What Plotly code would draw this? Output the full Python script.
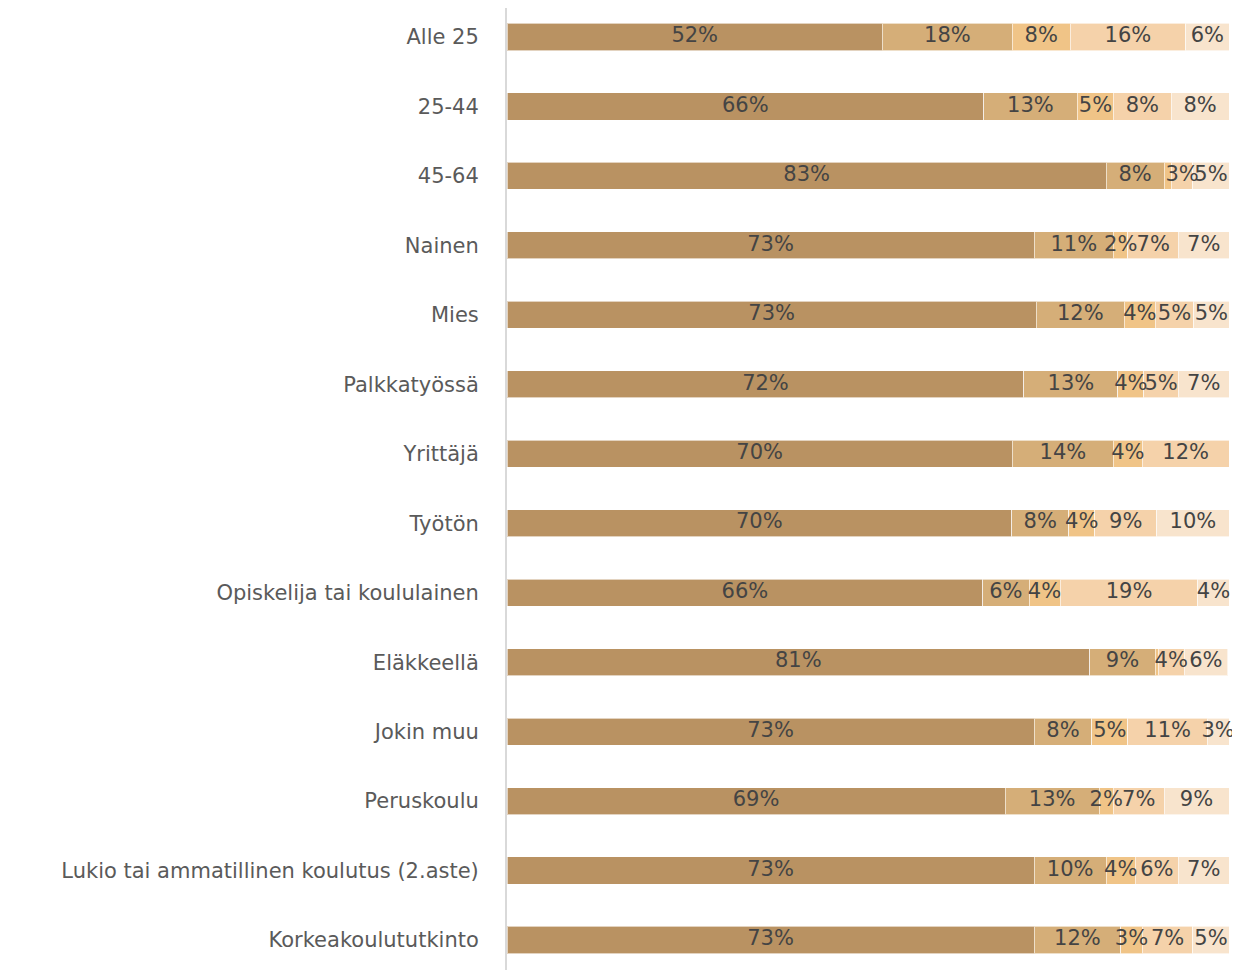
import plotly.graph_objects as go

categories = ["Alle 25", "25-44", "45-64", "Nainen", "Mies", "Palkkatyössä", "Yrittäjä",
              "Työtön", "Opiskelija tai koululainen", "Eläkkeellä", "Jokin muu",
              "Peruskoulu", "Lukio tai ammatillinen koulutus (2.aste)", "Korkeakoulututkinto"]

s1 = [52, 66, 83, 73, 73.3, 71.6, 70, 69.9, 65.9, 80.7, 73, 69, 73, 73]
s2 = [18, 13, 8, 11, 12.2, 13.0, 14, 7.9, 6.4, 9.1, 8, 13, 10, 12]
s3 = [8, 5, 1, 2, 4.3, 3.6, 4, 3.6, 4.3, 0.4, 5, 2, 4, 3]
s4 = [16, 8, 3, 7, 5.3, 4.8, 12, 8.6, 19.1, 3.6, 11, 7, 6, 7]
s5 = [6, 8, 5, 7, 4.9, 7.0, 0, 10.0, 4.3, 6.0, 3, 9, 7, 5]

series = [s1, s2, s3, s4, s5]
colors = ["#B99262", "#D5AE78", "#F0C487", "#F5D2AA", "#F8E4CD"]

FONT = "DejaVu Sans"

fig = go.Figure()
for vals, col in zip(series, colors):
    fig.add_trace(go.Bar(
        y=categories, x=vals, orientation="h",
        marker=dict(color=col, line=dict(color="rgba(255,255,255,0.6)", width=1)),
        hoverinfo="skip", showlegend=False,
    ))

# value labels drawn on top of all segments (so they can overflow like the original)
base = [0.0] * len(categories)
for vals in series:
    xs, ys, ts = [], [], []
    for i, v in enumerate(vals):
        if v >= 1.5:
            xs.append(base[i] + v / 2)
            ys.append(categories[i])
            ts.append(f"{round(v):d}%")
        base[i] += v
    fig.add_trace(go.Scatter(
        x=xs, y=ys, text=ts, mode="text", textposition="middle center",
        textfont=dict(family=FONT, size=21, color="#444444"),
        cliponaxis=False, hoverinfo="skip", showlegend=False,
    ))

fig.update_layout(
    barmode="stack", bargap=0.61,
    width=1232, height=962,
    margin=dict(l=499, r=11, t=0, b=0),
    paper_bgcolor="white", plot_bgcolor="white",
    xaxis=dict(range=[0, 100], showgrid=False, zeroline=False, showticklabels=False,
               showline=False),
    yaxis=dict(range=[13.432, -0.4175], showgrid=False, zeroline=False,
               showline=True, linecolor="#d9d9d9", linewidth=2,
               ticklabelstandoff=22, ticks="",
               tickfont=dict(family=FONT, size=21, color="#5a5a5a")),
)

fig.write_html("out.html")
